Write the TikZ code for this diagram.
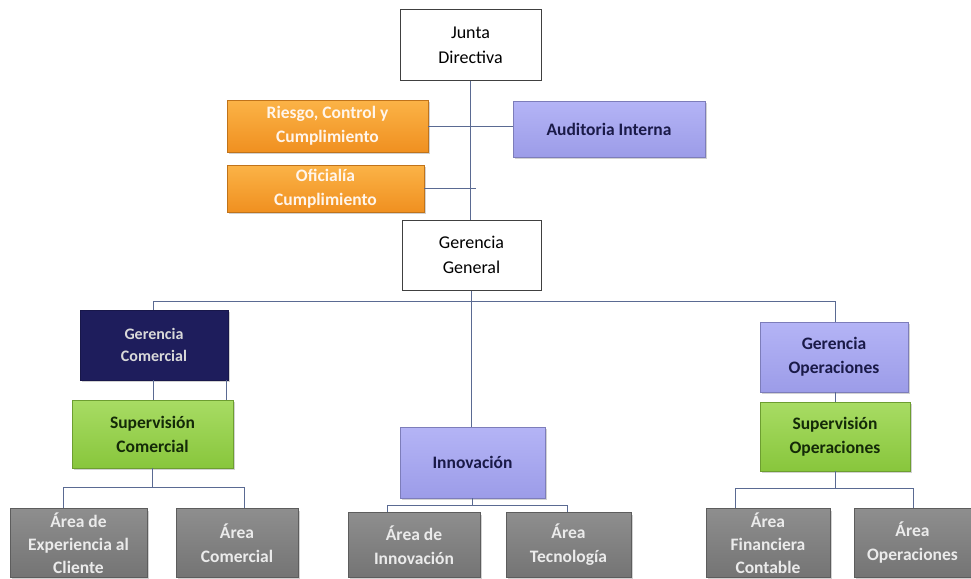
\documentclass[tikz,border=0pt]{standalone}
\usepackage{fontspec}
\setmainfont{Carlito}
\usetikzlibrary{shadows}
\definecolor{lineblue}{HTML}{5A6A92}
\definecolor{orgtop}{HTML}{FBB347}
\definecolor{orgbot}{HTML}{F09020}
\definecolor{lavtop}{HTML}{B4B4F6}
\definecolor{lavbot}{HTML}{9C9CE8}
\definecolor{navy}{HTML}{1E1D5C}
\definecolor{grntop}{HTML}{A8DC64}
\definecolor{grnbot}{HTML}{88C63C}
\definecolor{grytop}{HTML}{8E8E8E}
\definecolor{grybot}{HTML}{747474}
\definecolor{darktxt}{HTML}{1A1A48}
\definecolor{greentxt}{HTML}{142A08}
\tikzset{
  base/.style={rectangle, align=center, inner sep=1pt, font=\fontsize{18}{25}\selectfont},
  whitebox/.style={base, draw=black!75, line width=1pt, fill=white, text=black},
  colbox/.style={base, font=\bfseries\fontsize{17.5}{24}\selectfont, drop shadow={shadow xshift=1.5pt, shadow yshift=-2pt, fill=black!35}},
  orangebox/.style={colbox, draw=orgbot!80!black, top color=orgtop, bottom color=orgbot, text=white!92!orange},
  lavbox/.style={colbox, draw=lavbot!80!black, top color=lavtop, bottom color=lavbot, text=darktxt},
  navybox/.style={colbox, draw=navy!80!black, fill=navy, text=white!85!black},
  greenbox/.style={colbox, draw=grnbot!80!black, top color=grntop, bottom color=grnbot, text=greentxt},
  graybox/.style={colbox, draw=grybot!80!black, top color=grytop, bottom color=grybot, text=white!92!black},
  conn/.style={draw=lineblue, line width=0.9pt}
}
\begin{document}
\begin{tikzpicture}[x=1pt,y=-1pt]
\useasboundingbox (0,0) rectangle (971,578);
% nodes
\node[whitebox, minimum width=141pt, minimum height=70pt] (jd) at (470.5,45) {Junta\\Directiva};
\node[orangebox, minimum width=201pt, minimum height=52pt] (rcc) at (327.5,126) {Riesgo, Control y\\Cumplimiento};
\node[lavbox, minimum width=192pt, minimum height=56pt] (ai) at (609,129) {Auditoria Interna};
\node[orangebox, minimum width=197pt, minimum height=47pt] (of) at (325.5,188.5) {Oficialía\\Cumplimiento};
\node[whitebox, minimum width=139pt, minimum height=70pt] (gg) at (471.5,255) {Gerencia\\General};
\node[navybox, font=\bfseries\fontsize{16}{22}\selectfont, minimum width=148pt, minimum height=70pt] (gc) at (154,345) {Gerencia\\Comercial};
\node[greenbox, minimum width=161pt, minimum height=68pt] (sc) at (152.5,434) {Supervisión\\Comercial};
\node[lavbox, minimum width=145pt, minimum height=71pt] (inn) at (472.5,462.5) {Innovación};
\node[lavbox, minimum width=148pt, minimum height=70pt] (go) at (834,357) {Gerencia\\Operaciones};
\node[greenbox, minimum width=150pt, minimum height=69pt] (so) at (835,436.5) {Supervisión\\Operaciones};
\node[graybox, font=\bfseries\fontsize{17.5}{23}\selectfont, minimum width=137pt, minimum height=69pt] (aec) at (78.5,543) {Área de\\Experiencia al\\Cliente};
\node[graybox, minimum width=122pt, minimum height=69pt] (ac) at (237,543) {Área\\Comercial};
\node[graybox, minimum width=132pt, minimum height=65pt] (ain) at (414,545) {Área de\\Innovación};
\node[graybox, minimum width=125pt, minimum height=65pt] (at) at (568.5,545) {Área\\Tecnología};
\node[graybox, font=\bfseries\fontsize{17.5}{23}\selectfont, minimum width=124pt, minimum height=69pt] (afc) at (768,543) {Área\\Financiera\\Contable};
\node[graybox, minimum width=117pt, minimum height=69pt] (aop) at (912.5,543) {Área\\Operaciones};
% coordinates
\coordinate (ofend) at (476,190);
\coordinate (bl) at (153,301);
\coordinate (br) at (835,301);
\coordinate (b1l) at (63,487);
\coordinate (b1r) at (244,487);
\coordinate (b2l) at (387,505);
\coordinate (b2r) at (567,505);
\coordinate (b3l) at (735,488);
\coordinate (b3r) at (913,488);
% connectors
\draw[conn] (jd.south) -- (jd.south |- gg.north);
\draw[conn] (rcc.east) -- (rcc.east -| ai.west);
\draw[conn] (of.east) -- (of.east -| ofend);
\draw[conn] (bl) -- (br);
\draw[conn] (gg.south) -- (gg.south |- inn.north);
\draw[conn] (bl) -- (bl |- gc.north);
\draw[conn] (br) -- (br |- go.north);
\draw[conn] (gc.south -| bl) -- (sc.north -| bl);
\draw[conn] ([xshift=-2pt]gc.south east) -- ([xshift=-2pt]gc.south east |- sc.north);
\draw[conn] (sc.south) -- (sc.south |- b1l);
\draw[conn] (b1l) -- (b1r);
\draw[conn] (b1l) -- (b1l |- aec.north);
\draw[conn] (b1r) -- (b1r |- ac.north);
\draw[conn] (inn.south) -- (inn.south |- b2l);
\draw[conn] (b2l) -- (b2r);
\draw[conn] (b2l) -- (b2l |- ain.north);
\draw[conn] (b2r) -- (b2r |- at.north);
\draw[conn] (go.south -| so.north) -- (so.north);
\draw[conn] (so.south) -- (so.south |- b3l);
\draw[conn] (b3l) -- (b3r);
\draw[conn] (b3l) -- (b3l |- afc.north);
\draw[conn] (b3r) -- (b3r |- aop.north);
\end{tikzpicture}
\end{document}
